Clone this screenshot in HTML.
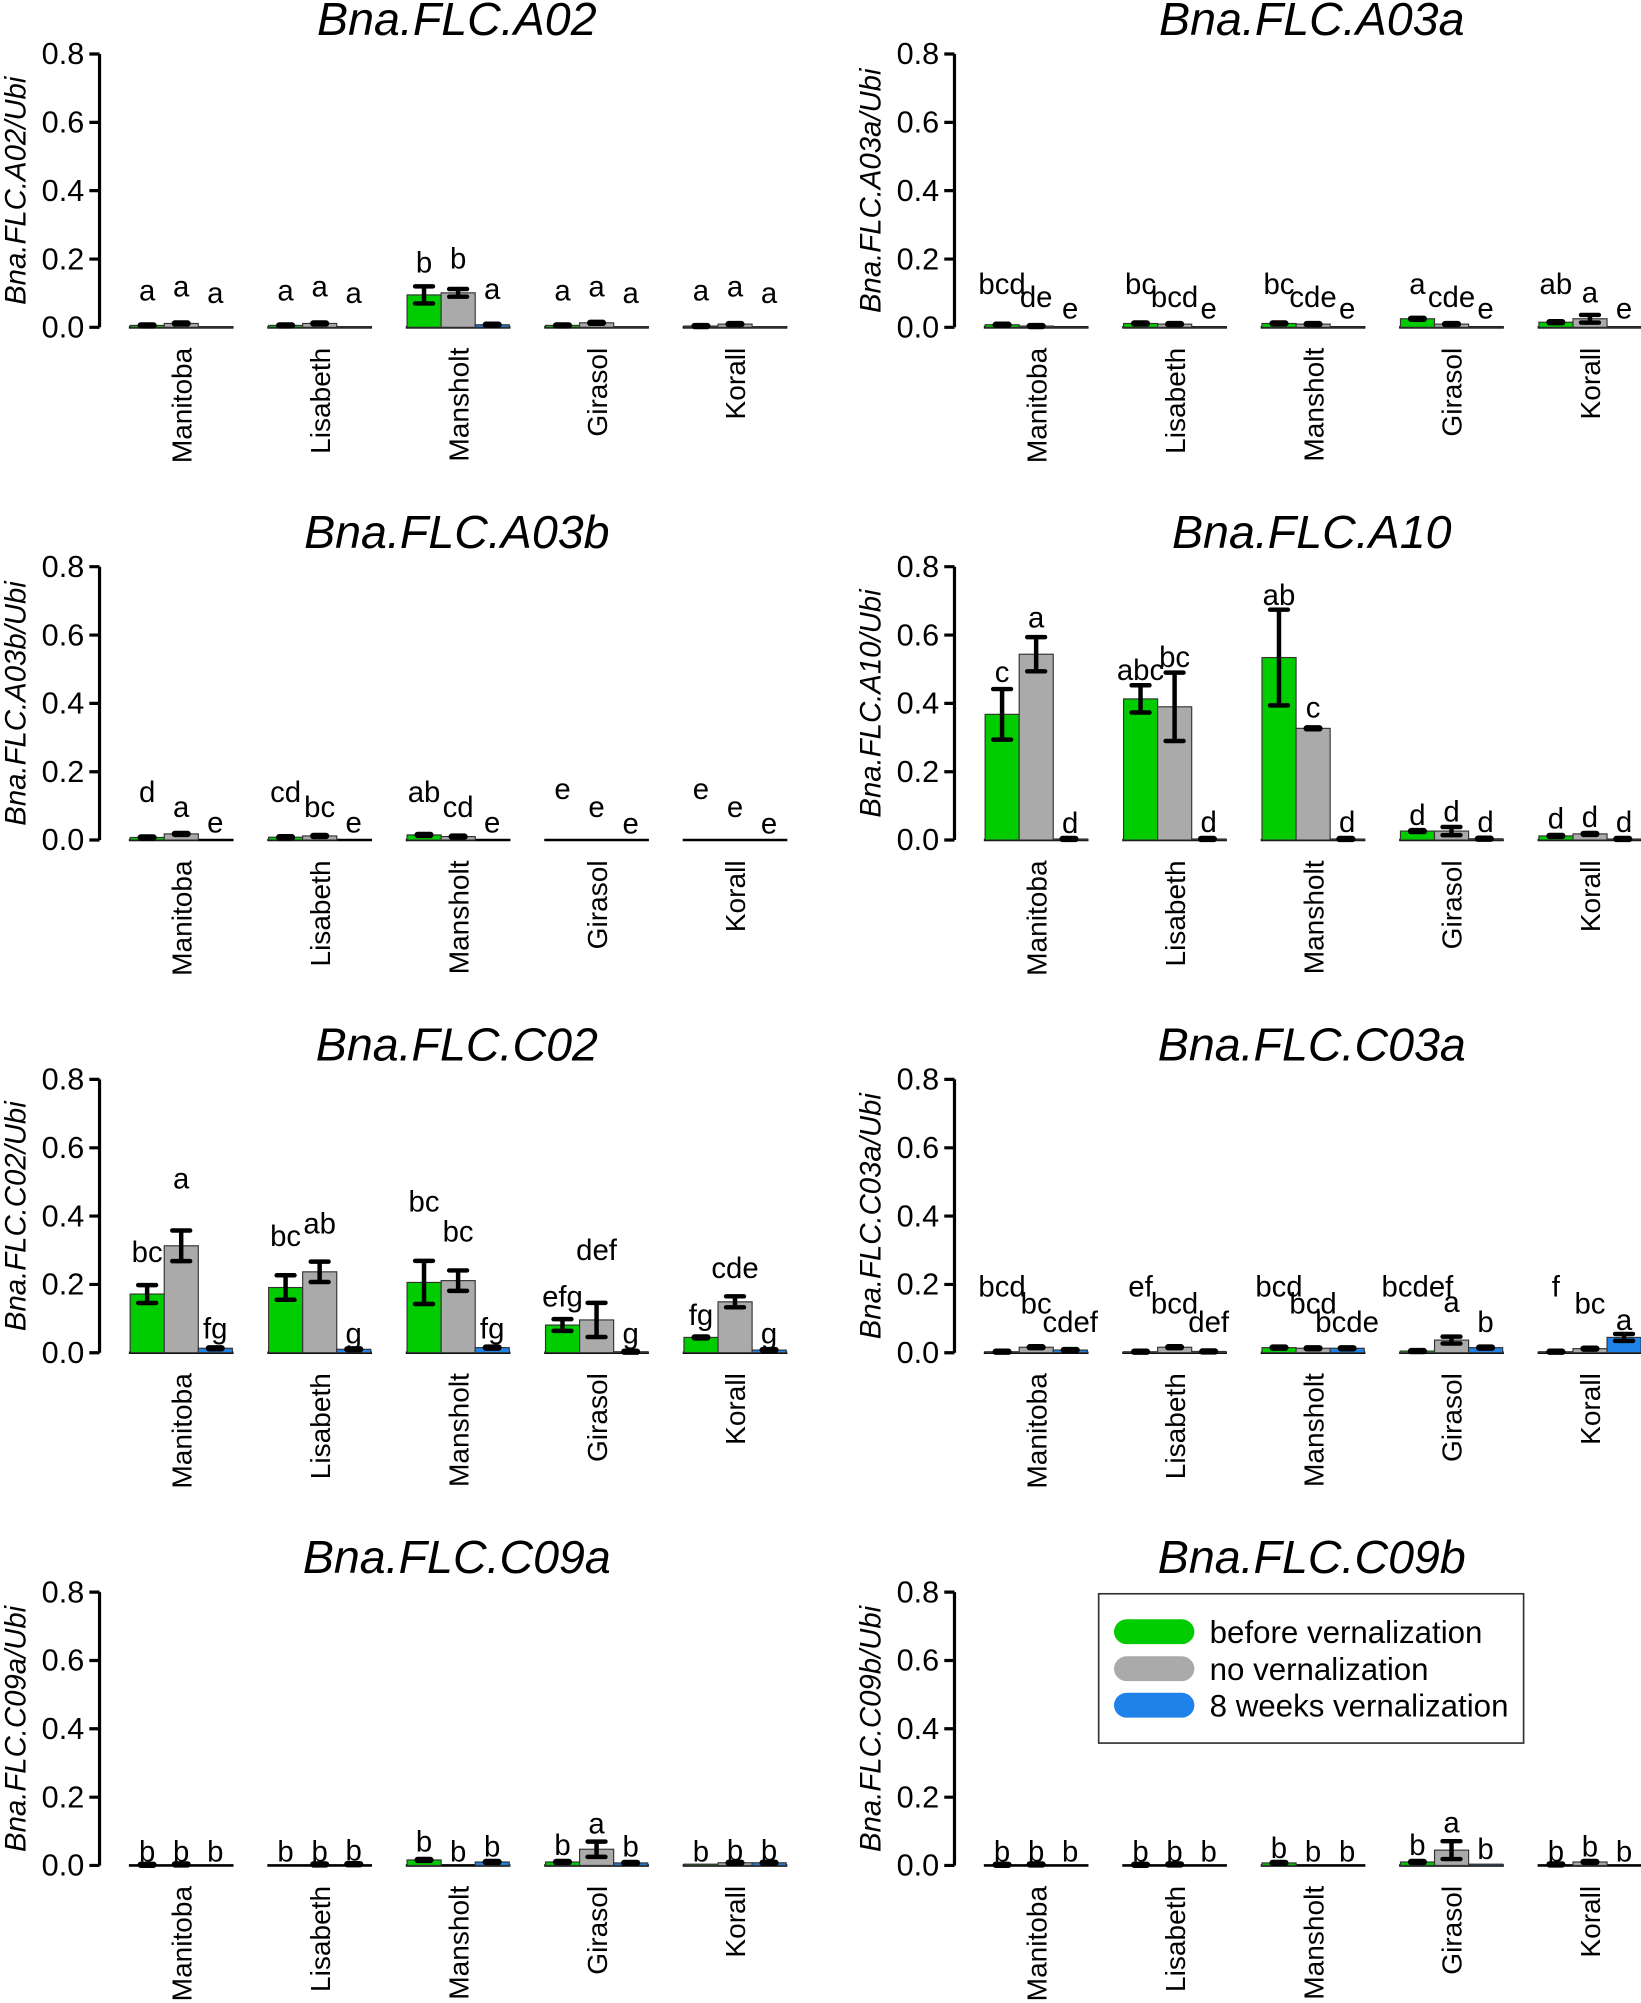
<!DOCTYPE html>
<html><head><meta charset="utf-8">
<style>
html,body{margin:0;padding:0;background:#fff}
svg{display:block}
text{font-family:"Liberation Sans",Arial,sans-serif;fill:#000}
.t{font-size:36.5px;font-style:italic;text-anchor:middle}
.yl{font-size:23px;font-style:italic;text-anchor:middle}
.tk{font-size:24px;text-anchor:end}
.xl{font-size:22px;text-anchor:end}
.l{font-size:23px;text-anchor:middle}
.lg{font-size:24.5px}
rect{width:26.7px;stroke:#333;stroke-width:0.9}
.g{fill:#00cc00}.r{fill:#aaaaaa}.b{fill:#1e82e8}
.ax{stroke:#000;stroke-width:2.5;fill:none}
.bl{stroke:#000;stroke-width:2;fill:none}
.e{stroke:#000;stroke-width:3.5;stroke-linecap:round;fill:none}
.k{stroke:#000;stroke-width:5;stroke-linecap:round;fill:none}
</style></head><body>
<svg width="1641" height="2003" viewBox="0 0 1286 1569.7" xmlns="http://www.w3.org/2000/svg">

<!-- ===== A02 ===== -->
<g transform="translate(78,256.5)">
<text class="t" x="280" y="-229">Bna.FLC.A02</text>
<text class="yl" transform="translate(-58,-107) rotate(-90)">Bna.FLC.A02/Ubi</text>
<path class="ax" d="M0-214.2V0M-8 0H0M-8-53.5H0M-8-107.1H0M-8-160.6H0M-8-214.2H0"/>
<text class="tk" x="-12" y="8">0.0</text><text class="tk" x="-12" y="-45.5">0.2</text><text class="tk" x="-12" y="-99.1">0.4</text><text class="tk" x="-12" y="-152.6">0.6</text><text class="tk" x="-12" y="-206.2">0.8</text>
<path class="bl" d="M23 0H105M131.5 0H213.5M240 0H322M348.5 0H430.5M457 0H539"/>
<text class="xl" transform="translate(72,16) rotate(-90)">Manitoba</text><text class="xl" transform="translate(180.5,16) rotate(-90)">Lisabeth</text><text class="xl" transform="translate(289,16) rotate(-90)">Mansholt</text><text class="xl" transform="translate(397.5,16) rotate(-90)">Girasol</text><text class="xl" transform="translate(506,16) rotate(-90)">Korall</text>
<rect class="g" x="24" y="-1.5" height="1.5"/><rect class="r" x="50.7" y="-3" height="3"/><rect class="b" x="77.4" y="-0.5" height="0.5"/>
<rect class="g" x="132.5" y="-1.5" height="1.5"/><rect class="r" x="159.2" y="-3" height="3"/><rect class="b" x="185.9" y="-0.5" height="0.5"/>
<rect class="g" x="241" y="-25.4" height="25.4"/><rect class="r" x="267.7" y="-27" height="27"/><rect class="b" x="294.4" y="-2" height="2"/>
<rect class="g" x="349.5" y="-1.5" height="1.5"/><rect class="r" x="376.2" y="-3.5" height="3.5"/><rect class="b" x="402.9" y="-0.5" height="0.5"/>
<rect class="g" x="458" y="-1" height="1"/><rect class="r" x="484.7" y="-2.5" height="2.5"/><rect class="b" x="511.4" y="-0.5" height="0.5"/>
<path class="k" d="M32.3-1.5h10M59-3h10M140.8-1.5h10M167.5-3h10M357.8-1.5h10M384.5-3.5h10M466.3-1h10M493-2.5h10M302.7-2h10"/>
<path class="e" d="M254.3-32.1V-18.7M247.3-32.1h14M247.3-18.7h14M281-30V-24M274-30h14M274-24h14"/>
<text class="l" x="37.3" y="-21">a</text><text class="l" x="64" y="-24">a</text><text class="l" x="90.7" y="-19">a</text>
<text class="l" x="145.8" y="-21">a</text><text class="l" x="172.5" y="-24">a</text><text class="l" x="199.2" y="-19">a</text>
<text class="l" x="254.3" y="-43">b</text><text class="l" x="281" y="-46">b</text><text class="l" x="307.7" y="-22">a</text>
<text class="l" x="362.8" y="-21">a</text><text class="l" x="389.5" y="-24">a</text><text class="l" x="416.2" y="-19">a</text>
<text class="l" x="471.3" y="-21">a</text><text class="l" x="498" y="-24">a</text><text class="l" x="524.7" y="-19">a</text>
</g>

<!-- ===== A03a ===== -->
<g transform="translate(748,256.5)">
<text class="t" x="280" y="-229">Bna.FLC.A03a</text>
<text class="yl" transform="translate(-58,-107) rotate(-90)">Bna.FLC.A03a/Ubi</text>
<path class="ax" d="M0-214.2V0M-8 0H0M-8-53.5H0M-8-107.1H0M-8-160.6H0M-8-214.2H0"/>
<text class="tk" x="-12" y="8">0.0</text><text class="tk" x="-12" y="-45.5">0.2</text><text class="tk" x="-12" y="-99.1">0.4</text><text class="tk" x="-12" y="-152.6">0.6</text><text class="tk" x="-12" y="-206.2">0.8</text>
<path class="bl" d="M23 0H105M131.5 0H213.5M240 0H322M348.5 0H430.5M457 0H539"/>
<text class="xl" transform="translate(72,16) rotate(-90)">Manitoba</text><text class="xl" transform="translate(180.5,16) rotate(-90)">Lisabeth</text><text class="xl" transform="translate(289,16) rotate(-90)">Mansholt</text><text class="xl" transform="translate(397.5,16) rotate(-90)">Girasol</text><text class="xl" transform="translate(506,16) rotate(-90)">Korall</text>
<rect class="g" x="24" y="-2" height="2"/><rect class="r" x="50.7" y="-1" height="1"/><rect class="b" x="77.4" y="-0.3" height="0.3"/>
<rect class="g" x="132.5" y="-3" height="3"/><rect class="r" x="159.2" y="-2.5" height="2.5"/><rect class="b" x="185.9" y="-0.3" height="0.3"/>
<rect class="g" x="241" y="-3" height="3"/><rect class="r" x="267.7" y="-2.5" height="2.5"/><rect class="b" x="294.4" y="-0.3" height="0.3"/>
<rect class="g" x="349.5" y="-6.7" height="6.7"/><rect class="r" x="376.2" y="-2.5" height="2.5"/><rect class="b" x="402.9" y="-0.3" height="0.3"/>
<rect class="g" x="458" y="-4" height="4"/><rect class="r" x="484.7" y="-6.7" height="6.7"/><rect class="b" x="511.4" y="-0.3" height="0.3"/>
<path class="k" d="M32.3-2h10M59-1h10M140.8-3h10M167.5-2.5h10M249.3-3h10M276-2.5h10M357.8-6.7h10M384.5-2.5h10M466.3-4h10"/>
<path class="e" d="M498-9.7V-3.7M491-9.7h14M491-3.7h14"/>
<text class="l" x="37.3" y="-26">bcd</text><text class="l" x="64" y="-16">de</text><text class="l" x="90.7" y="-7">e</text>
<text class="l" x="145.8" y="-26">bc</text><text class="l" x="172.5" y="-16">bcd</text><text class="l" x="199.2" y="-7">e</text>
<text class="l" x="254.3" y="-26">bc</text><text class="l" x="281" y="-16">cde</text><text class="l" x="307.7" y="-7">e</text>
<text class="l" x="362.8" y="-26">a</text><text class="l" x="389.5" y="-16">cde</text><text class="l" x="416.2" y="-7">e</text>
<text class="l" x="471.3" y="-26">ab</text><text class="l" x="498" y="-19.6">a</text><text class="l" x="524.7" y="-7">e</text>
</g>

<!-- ===== A03b ===== -->
<g transform="translate(78,658.3)">
<text class="t" x="280" y="-229">Bna.FLC.A03b</text>
<text class="yl" transform="translate(-58,-107) rotate(-90)">Bna.FLC.A03b/Ubi</text>
<path class="ax" d="M0-214.2V0M-8 0H0M-8-53.5H0M-8-107.1H0M-8-160.6H0M-8-214.2H0"/>
<text class="tk" x="-12" y="8">0.0</text><text class="tk" x="-12" y="-45.5">0.2</text><text class="tk" x="-12" y="-99.1">0.4</text><text class="tk" x="-12" y="-152.6">0.6</text><text class="tk" x="-12" y="-206.2">0.8</text>
<path class="bl" d="M23 0H105M131.5 0H213.5M240 0H322M348.5 0H430.5M457 0H539"/>
<text class="xl" transform="translate(72,16) rotate(-90)">Manitoba</text><text class="xl" transform="translate(180.5,16) rotate(-90)">Lisabeth</text><text class="xl" transform="translate(289,16) rotate(-90)">Mansholt</text><text class="xl" transform="translate(397.5,16) rotate(-90)">Girasol</text><text class="xl" transform="translate(506,16) rotate(-90)">Korall</text>
<rect class="g" x="24" y="-2" height="2"/><rect class="r" x="50.7" y="-4.8" height="4.8"/>
<rect class="g" x="132.5" y="-2.2" height="2.2"/><rect class="r" x="159.2" y="-3.2" height="3.2"/>
<rect class="g" x="241" y="-4" height="4"/><rect class="r" x="267.7" y="-2.7" height="2.7"/>
<path class="k" d="M32.3-2h10M59-4.8h10M140.8-2.2h10M167.5-3.2h10M249.3-4h10M276-2.7h10"/>
<text class="l" x="37.3" y="-30">d</text><text class="l" x="64" y="-18">a</text><text class="l" x="90.7" y="-6">e</text>
<text class="l" x="145.8" y="-30">cd</text><text class="l" x="172.5" y="-18">bc</text><text class="l" x="199.2" y="-6">e</text>
<text class="l" x="254.3" y="-30">ab</text><text class="l" x="281" y="-18">cd</text><text class="l" x="307.7" y="-6">e</text>
<text class="l" x="362.8" y="-32">e</text><text class="l" x="389.5" y="-18">e</text><text class="l" x="416.2" y="-5">e</text>
<text class="l" x="471.3" y="-32">e</text><text class="l" x="498" y="-18">e</text><text class="l" x="524.7" y="-5">e</text>
</g>

<!-- ===== A10 ===== -->
<g transform="translate(748,658.3)">
<text class="t" x="280" y="-229">Bna.FLC.A10</text>
<text class="yl" transform="translate(-58,-107) rotate(-90)">Bna.FLC.A10/Ubi</text>
<path class="ax" d="M0-214.2V0M-8 0H0M-8-53.5H0M-8-107.1H0M-8-160.6H0M-8-214.2H0"/>
<text class="tk" x="-12" y="8">0.0</text><text class="tk" x="-12" y="-45.5">0.2</text><text class="tk" x="-12" y="-99.1">0.4</text><text class="tk" x="-12" y="-152.6">0.6</text><text class="tk" x="-12" y="-206.2">0.8</text>
<path class="bl" d="M23 0H105M131.5 0H213.5M240 0H322M348.5 0H430.5M457 0H539"/>
<text class="xl" transform="translate(72,16) rotate(-90)">Manitoba</text><text class="xl" transform="translate(180.5,16) rotate(-90)">Lisabeth</text><text class="xl" transform="translate(289,16) rotate(-90)">Mansholt</text><text class="xl" transform="translate(397.5,16) rotate(-90)">Girasol</text><text class="xl" transform="translate(506,16) rotate(-90)">Korall</text>
<rect class="g" x="24" y="-98.5" height="98.5"/><rect class="r" x="50.7" y="-145.6" height="145.6"/><rect class="b" x="77.4" y="-0.8" height="0.8"/>
<rect class="g" x="132.5" y="-110.6" height="110.6"/><rect class="r" x="159.2" y="-104.4" height="104.4"/><rect class="b" x="185.9" y="-0.8" height="0.8"/>
<rect class="g" x="241" y="-143" height="143"/><rect class="r" x="267.7" y="-87.5" height="87.5"/><rect class="b" x="294.4" y="-0.8" height="0.8"/>
<rect class="g" x="349.5" y="-7" height="7"/><rect class="r" x="376.2" y="-7" height="7"/><rect class="b" x="402.9" y="-1" height="1"/>
<rect class="g" x="458" y="-3.2" height="3.2"/><rect class="r" x="484.7" y="-4.8" height="4.8"/><rect class="b" x="511.4" y="-0.8" height="0.8"/>
<path class="e" d="M37.3-118.3V-78.7M30.3-118.3h14M30.3-78.7h14M64-159V-132.2M57-159h14M57-132.2h14M145.8-121.3V-99.9M138.8-121.3h14M138.8-99.9h14M172.5-131.2V-77.6M165.5-131.2h14M165.5-77.6h14M254.3-180.5V-105.5M247.3-180.5h14M247.3-105.5h14M389.5-10.2V-3.8M382.5-10.2h14M382.5-3.8h14"/>
<path class="k" d="M276-87.5h10M84.7-0.8h10M193.2-0.8h10M301.7-0.8h10M357.8-7h10M410.2-1h10M466.3-3.2h10M493-4.8h10M518.7-0.8h10"/>
<text class="l" x="37.3" y="-124">c</text><text class="l" x="64" y="-166.5">a</text><text class="l" x="90.7" y="-5.6">d</text>
<text class="l" x="145.8" y="-125.3">abc</text><text class="l" x="172.5" y="-135.7">bc</text><text class="l" x="199.2" y="-6.4">d</text>
<text class="l" x="254.3" y="-184.2">ab</text><text class="l" x="281" y="-96.1">c</text><text class="l" x="307.7" y="-6.4">d</text>
<text class="l" x="362.8" y="-11.8">d</text><text class="l" x="389.5" y="-14.5">d</text><text class="l" x="416.2" y="-6.4">d</text>
<text class="l" x="471.3" y="-9.1">d</text><text class="l" x="498" y="-10.4">d</text><text class="l" x="524.7" y="-6.4">d</text>
</g>

<!-- ===== C02 ===== -->
<g transform="translate(78,1060.1)">
<text class="t" x="280" y="-229">Bna.FLC.C02</text>
<text class="yl" transform="translate(-58,-107) rotate(-90)">Bna.FLC.C02/Ubi</text>
<path class="ax" d="M0-214.2V0M-8 0H0M-8-53.5H0M-8-107.1H0M-8-160.6H0M-8-214.2H0"/>
<text class="tk" x="-12" y="8">0.0</text><text class="tk" x="-12" y="-45.5">0.2</text><text class="tk" x="-12" y="-99.1">0.4</text><text class="tk" x="-12" y="-152.6">0.6</text><text class="tk" x="-12" y="-206.2">0.8</text>
<path class="bl" d="M23 0H105M131.5 0H213.5M240 0H322M348.5 0H430.5M457 0H539"/>
<text class="xl" transform="translate(72,16) rotate(-90)">Manitoba</text><text class="xl" transform="translate(180.5,16) rotate(-90)">Lisabeth</text><text class="xl" transform="translate(289,16) rotate(-90)">Mansholt</text><text class="xl" transform="translate(397.5,16) rotate(-90)">Girasol</text><text class="xl" transform="translate(506,16) rotate(-90)">Korall</text>
<rect class="g" x="24" y="-46" height="46"/><rect class="r" x="50.7" y="-83.8" height="83.8"/><rect class="b" x="77.4" y="-3.5" height="3.5"/>
<rect class="g" x="132.5" y="-51.1" height="51.1"/><rect class="r" x="159.2" y="-63.4" height="63.4"/><rect class="b" x="185.9" y="-2.7" height="2.7"/>
<rect class="g" x="241" y="-55.1" height="55.1"/><rect class="r" x="267.7" y="-56.5" height="56.5"/><rect class="b" x="294.4" y="-4" height="4"/>
<rect class="g" x="349.5" y="-21.7" height="21.7"/><rect class="r" x="376.2" y="-25.7" height="25.7"/><rect class="b" x="402.9" y="-0.8" height="0.8"/>
<rect class="g" x="458" y="-12" height="12"/><rect class="r" x="484.7" y="-39.9" height="39.9"/><rect class="b" x="511.4" y="-2.1" height="2.1"/>
<path class="e" d="M37.3-53V-39M30.3-53h14M30.3-39h14M64-95.8V-71.8M57-95.8h14M57-71.8h14M145.8-60.7V-41.5M138.8-60.7h14M138.8-41.5h14M172.5-71.4V-55.4M165.5-71.4h14M165.5-55.4h14M254.3-72V-38.2M247.3-72h14M247.3-38.2h14M281-64.5V-48.5M274-64.5h14M274-48.5h14M362.8-26.3V-17.1M355.8-26.3h14M355.8-17.1h14M389.5-39.1V-12.3M382.5-39.1h14M382.5-12.3h14M498-44.2V-35.6M491-44.2h14M491-35.6h14"/>
<path class="k" d="M85.7-3.5h10M194.2-2.7h10M302.7-4h10M411.2-0.8h10M466.3-12h10M519.7-2.1h10"/>
<text class="l" x="37.3" y="-71.2">bc</text><text class="l" x="64" y="-128.8">a</text><text class="l" x="90.7" y="-11.2">fg</text>
<text class="l" x="145.8" y="-83.5">bc</text><text class="l" x="172.5" y="-93.4">ab</text><text class="l" x="199.2" y="-7.2">g</text>
<text class="l" x="254.3" y="-110.6">bc</text><text class="l" x="281" y="-87">bc</text><text class="l" x="307.7" y="-11.2">fg</text>
<text class="l" x="362.8" y="-36.1">efg</text><text class="l" x="389.5" y="-72.5">def</text><text class="l" x="416.2" y="-7.2">g</text>
<text class="l" x="471.3" y="-21.7">fg</text><text class="l" x="498" y="-58.4">cde</text><text class="l" x="524.7" y="-7.2">g</text>
</g>

<!-- ===== C03a ===== -->
<g transform="translate(748,1060.1)">
<text class="t" x="280" y="-229">Bna.FLC.C03a</text>
<text class="yl" transform="translate(-58,-107) rotate(-90)">Bna.FLC.C03a/Ubi</text>
<path class="ax" d="M0-214.2V0M-8 0H0M-8-53.5H0M-8-107.1H0M-8-160.6H0M-8-214.2H0"/>
<text class="tk" x="-12" y="8">0.0</text><text class="tk" x="-12" y="-45.5">0.2</text><text class="tk" x="-12" y="-99.1">0.4</text><text class="tk" x="-12" y="-152.6">0.6</text><text class="tk" x="-12" y="-206.2">0.8</text>
<path class="bl" d="M23 0H105M131.5 0H213.5M240 0H322M348.5 0H430.5M457 0H539"/>
<text class="xl" transform="translate(72,16) rotate(-90)">Manitoba</text><text class="xl" transform="translate(180.5,16) rotate(-90)">Lisabeth</text><text class="xl" transform="translate(289,16) rotate(-90)">Mansholt</text><text class="xl" transform="translate(397.5,16) rotate(-90)">Girasol</text><text class="xl" transform="translate(506,16) rotate(-90)">Korall</text>
<rect class="g" x="24" y="-0.8" height="0.8"/><rect class="r" x="50.7" y="-4.3" height="4.3"/><rect class="b" x="77.4" y="-2.1" height="2.1"/>
<rect class="g" x="132.5" y="-0.8" height="0.8"/><rect class="r" x="159.2" y="-4.3" height="4.3"/><rect class="b" x="185.9" y="-1" height="1"/>
<rect class="g" x="241" y="-4" height="4"/><rect class="r" x="267.7" y="-3.5" height="3.5"/><rect class="b" x="294.4" y="-3.5" height="3.5"/>
<rect class="g" x="349.5" y="-1.3" height="1.3"/><rect class="r" x="376.2" y="-9.9" height="9.9"/><rect class="b" x="402.9" y="-4" height="4"/>
<rect class="g" x="458" y="-0.8" height="0.8"/><rect class="r" x="484.7" y="-3.2" height="3.2"/><rect class="b" x="511.4" y="-12" height="12"/>
<path class="k" d="M32.3-0.8h10M59-4.3h10M85.7-2.1h10M140.8-0.8h10M167.5-4.3h10M194.2-1h10M249.3-4h10M276-3.5h10M302.7-3.5h10M357.8-1.3h10M411.2-4h10M466.3-0.8h10M493-3.2h10"/>
<path class="e" d="M389.5-12.6V-7.2M382.5-12.6h14M382.5-7.2h14M524.7-14.7V-9.3M517.7-14.7h14M517.7-9.3h14"/>
<text class="l" x="37.3" y="-43.9">bcd</text><text class="l" x="64" y="-30.8">bc</text><text class="l" x="90.7" y="-16.3">cdef</text>
<text class="l" x="145.8" y="-43.9">ef</text><text class="l" x="172.5" y="-30.8">bcd</text><text class="l" x="199.2" y="-16.3">def</text>
<text class="l" x="254.3" y="-43.9">bcd</text><text class="l" x="281" y="-30.8">bcd</text><text class="l" x="307.7" y="-16.3">bcde</text>
<text class="l" x="362.8" y="-43.9">bcdef</text><text class="l" x="389.5" y="-32.1">a</text><text class="l" x="416.2" y="-16.3">b</text>
<text class="l" x="471.3" y="-43.9">f</text><text class="l" x="498" y="-30.8">bc</text><text class="l" x="524.7" y="-17.7">a</text>
</g>

<!-- ===== C09a ===== -->
<g transform="translate(78,1461.9)">
<text class="t" x="280" y="-229">Bna.FLC.C09a</text>
<text class="yl" transform="translate(-58,-107) rotate(-90)">Bna.FLC.C09a/Ubi</text>
<path class="ax" d="M0-214.2V0M-8 0H0M-8-53.5H0M-8-107.1H0M-8-160.6H0M-8-214.2H0"/>
<text class="tk" x="-12" y="8">0.0</text><text class="tk" x="-12" y="-45.5">0.2</text><text class="tk" x="-12" y="-99.1">0.4</text><text class="tk" x="-12" y="-152.6">0.6</text><text class="tk" x="-12" y="-206.2">0.8</text>
<path class="bl" d="M23 0H105M131.5 0H213.5M240 0H322M348.5 0H430.5M457 0H539"/>
<text class="xl" transform="translate(72,16) rotate(-90)">Manitoba</text><text class="xl" transform="translate(180.5,16) rotate(-90)">Lisabeth</text><text class="xl" transform="translate(289,16) rotate(-90)">Mansholt</text><text class="xl" transform="translate(397.5,16) rotate(-90)">Girasol</text><text class="xl" transform="translate(506,16) rotate(-90)">Korall</text>
<rect class="g" x="241" y="-4.3" height="4.3"/><rect class="b" x="294.4" y="-2.7" height="2.7"/>
<rect class="g" x="349.5" y="-2.7" height="2.7"/><rect class="r" x="376.2" y="-12.7" height="12.7"/><rect class="b" x="402.9" y="-2" height="2"/>
<rect class="g" x="458" y="-1" height="1"/><rect class="r" x="484.7" y="-2.1" height="2.1"/><rect class="b" x="511.4" y="-2.1" height="2.1"/>
<path class="k" d="M32.3-0.5h10M59-0.8h10M167.5-0.8h10M194.2-1h10M249.3-4.3h10M302.7-2.7h10M357.8-2.7h10M411.2-2h10M493-2.1h10M519.7-2.1h10"/>
<path class="e" d="M389.5-18.7V-6.7M382.5-18.7h14M382.5-6.7h14"/>
<text class="l" x="37.3" y="-3">b</text><text class="l" x="64" y="-3">b</text><text class="l" x="90.7" y="-3">b</text>
<text class="l" x="145.8" y="-3">b</text><text class="l" x="172.5" y="-3">b</text><text class="l" x="199.2" y="-4">b</text>
<text class="l" x="254.3" y="-10.9">b</text><text class="l" x="281" y="-3">b</text><text class="l" x="307.7" y="-7">b</text>
<text class="l" x="362.8" y="-8.3">b</text><text class="l" x="389.5" y="-25">a</text><text class="l" x="416.2" y="-7">b</text>
<text class="l" x="471.3" y="-3">b</text><text class="l" x="498" y="-4">b</text><text class="l" x="524.7" y="-4">b</text>
</g>

<!-- ===== C09b ===== -->
<g transform="translate(748,1461.9)">
<text class="t" x="280" y="-229">Bna.FLC.C09b</text>
<text class="yl" transform="translate(-58,-107) rotate(-90)">Bna.FLC.C09b/Ubi</text>
<path class="ax" d="M0-214.2V0M-8 0H0M-8-53.5H0M-8-107.1H0M-8-160.6H0M-8-214.2H0"/>
<text class="tk" x="-12" y="8">0.0</text><text class="tk" x="-12" y="-45.5">0.2</text><text class="tk" x="-12" y="-99.1">0.4</text><text class="tk" x="-12" y="-152.6">0.6</text><text class="tk" x="-12" y="-206.2">0.8</text>
<path class="bl" d="M23 0H105M131.5 0H213.5M240 0H322M348.5 0H430.5M457 0H539"/>
<text class="xl" transform="translate(72,16) rotate(-90)">Manitoba</text><text class="xl" transform="translate(180.5,16) rotate(-90)">Lisabeth</text><text class="xl" transform="translate(289,16) rotate(-90)">Mansholt</text><text class="xl" transform="translate(397.5,16) rotate(-90)">Girasol</text><text class="xl" transform="translate(506,16) rotate(-90)">Korall</text>
<rect class="g" x="241" y="-2" height="2"/>
<rect class="g" x="349.5" y="-2.7" height="2.7"/><rect class="r" x="376.2" y="-12" height="12"/><rect class="b" x="402.9" y="-1" height="1"/>
<rect class="r" x="484.7" y="-2.7" height="2.7"/>
<path class="k" d="M32.3-0.5h10M59-0.8h10M140.8-0.5h10M167.5-0.8h10M249.3-2h10M357.8-2.7h10M466.3-0.8h10M493-2.7h10"/>
<path class="e" d="M389.5-19V-5M382.5-19h14M382.5-5h14"/>
<text class="l" x="37.3" y="-3">b</text><text class="l" x="64" y="-3">b</text><text class="l" x="90.7" y="-3">b</text>
<text class="l" x="145.8" y="-3">b</text><text class="l" x="172.5" y="-3">b</text><text class="l" x="199.2" y="-3">b</text>
<text class="l" x="254.3" y="-6">b</text><text class="l" x="281" y="-3">b</text><text class="l" x="307.7" y="-3">b</text>
<text class="l" x="362.8" y="-8.3">b</text><text class="l" x="389.5" y="-26">a</text><text class="l" x="416.2" y="-5">b</text>
<text class="l" x="471.3" y="-3">b</text><text class="l" x="498" y="-7">b</text><text class="l" x="524.7" y="-3">b</text>
</g>

<!-- legend -->
<rect x="861" y="1249" height="117" style="width:333px;fill:#fff;stroke:#333;stroke-width:1.3"/>
<rect x="873" y="1269" rx="10" height="19.5" style="width:63px;fill:#00cc00;stroke:none"/>
<rect x="873" y="1298" rx="10" height="19.5" style="width:63px;fill:#aaaaaa;stroke:none"/>
<rect x="873" y="1326.6" rx="10" height="19.5" style="width:63px;fill:#1e82e8;stroke:none"/>
<text class="lg" x="948" y="1287.5">before vernalization</text>
<text class="lg" x="948" y="1316.5">no vernalization</text>
<text class="lg" x="948" y="1345">8 weeks vernalization</text>
</svg>
</body></html>
